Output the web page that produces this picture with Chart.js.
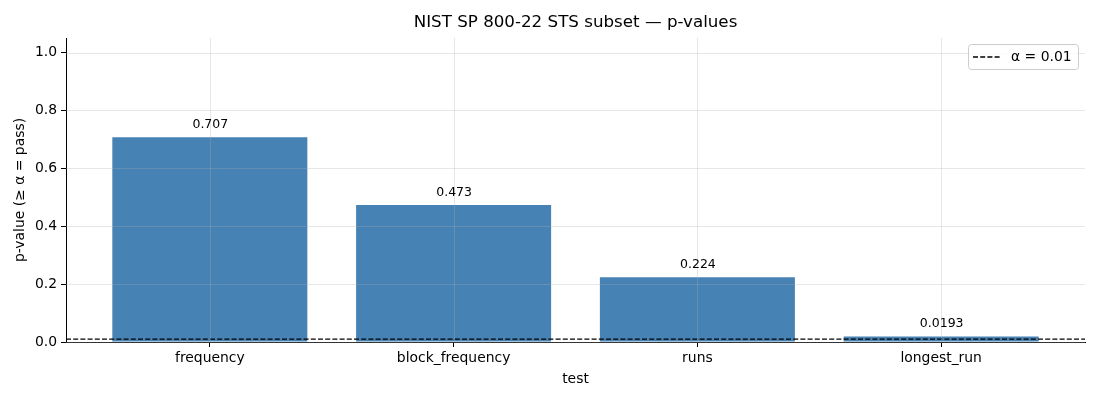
<!DOCTYPE html>
<html lang="en">
<head>
<meta charset="UTF-8">
<title>NIST STS p-values</title>
<style>
  body { margin: 0; background: #fff; }
  #wrap { width: 1100px; height: 400px; }
</style>
</head>
<body>
<div id="wrap"><canvas id="myChart"></canvas></div>

<script src="https://cdn.jsdelivr.net/npm/chart.js"></script>
<script>
    // data
    const tests = ['frequency', 'block_frequency', 'runs', 'longest_run'];
    const pValues = [0.707, 0.473, 0.224, 0.0193];
    const valueLabels = ['0.707', '0.473', '0.224', '0.0193'];
    const alpha = 0.01;
    const yTicks = [0, 0.2, 0.4, 0.6, 0.8, 1.0];

    // axis limits (matplotlib-like margins)
    const xMin = -0.59, xMax = 3.59;
    const yMin = 0, yMax = 1.05;

    const FONT = "'DejaVu Sans', sans-serif";
    Chart.defaults.font.family = FONT;
    Chart.defaults.color = '#000';

    // grid on top of the bars, like the reference
    const gridOnTop = {
        id: 'gridOnTop',
        afterDatasetsDraw(chart) {
            const { ctx, chartArea: a, scales: { x, y } } = chart;
            ctx.save();
            ctx.strokeStyle = 'rgba(176,176,176,0.3)';
            ctx.lineWidth = 1;
            x.ticks.forEach(t => {
                const px = Math.round(x.getPixelForValue(t.value)) + 0.5;
                ctx.beginPath(); ctx.moveTo(px, a.top); ctx.lineTo(px, a.bottom); ctx.stroke();
            });
            y.ticks.forEach(t => {
                const py = Math.round(y.getPixelForValue(t.value)) + 0.5;
                ctx.beginPath(); ctx.moveTo(a.left, py); ctx.lineTo(a.right, py); ctx.stroke();
            });
            ctx.restore();
        },
        afterDraw(chart) {
            const { ctx, scales: { x, y } } = chart;
            ctx.save();
            // value labels above bars
            ctx.font = '12.5px ' + FONT;
            ctx.fillStyle = '#000';
            ctx.textAlign = 'center';
            ctx.textBaseline = 'alphabetic';
            pValues.forEach((v, i) => {
                ctx.fillText(valueLabels[i], x.getPixelForValue(i) + 0.5, y.getPixelForValue(v) - 9);
            });

            // legend box
            const bx = 968, by = 44, bw = 110, bh = 25;
            ctx.fillStyle = 'rgba(255,255,255,0.8)';
            ctx.strokeStyle = '#cccccc';
            ctx.lineWidth = 1;
            ctx.beginPath();
            ctx.roundRect(bx + 0.5, by + 0.5, bw, bh, 3);
            ctx.fill(); ctx.stroke();
            ctx.strokeStyle = '#000';
            ctx.lineWidth = 1.3;
            ctx.setLineDash([5, 2.2]);
            ctx.beginPath();
            ctx.moveTo(bx + 5, by + 13); ctx.lineTo(bx + 33, by + 13); ctx.stroke();
            ctx.setLineDash([]);
            ctx.fillStyle = '#000';
            ctx.font = '13.9px ' + FONT;
            ctx.textAlign = 'left';
            ctx.textBaseline = 'middle';
            ctx.fillText('α = ' + alpha, bx + 43, by + 13);
            ctx.restore();
        }
    };

    const chart = new Chart(document.getElementById('myChart'), {
        type: 'bar',
        data: {
            datasets: [{
                type: 'line',
                label: 'α = ' + alpha,
                data: [{ x: xMin, y: alpha }, { x: xMax, y: alpha }],
                borderColor: '#000',
                borderWidth: 1.3,
                borderDash: [5, 2.2],
                pointRadius: 0,
                order: 0
            }, {
                label: 'p-value',
                data: pValues.map((v, i) => ({ x: i, y: v })),
                backgroundColor: '#4682b4',
                barPercentage: 0.8,
                categoryPercentage: 1.0,
                order: 1
            }]
        },
        options: {
            responsive: true,
            maintainAspectRatio: false,
            animation: false,
            layout: { padding: { left: 0, right: 15, top: 0, bottom: 0 } },
            plugins: {
                legend: { display: false },
                tooltip: { enabled: false },
                title: {
                    display: true,
                    fullSize: false,
                    text: 'NIST SP 800-22 STS subset — p-values',
                    font: { size: 16.7, weight: 'normal' },
                    color: '#000',
                    padding: { top: 13, bottom: 5 }
                }
            },
            scales: {
                x: {
                    type: 'linear',
                    min: xMin,
                    max: xMax,
                    offset: false,
                    afterBuildTicks(s) {
                        s.ticks = tests.map((t, i) => ({ value: i }));
                    },
                    afterFit(s) { s.height = 58; },
                    ticks: {
                        callback: v => tests[v],
                        font: { size: 13.9 },
                        color: '#000',
                        padding: 3,
                        maxRotation: 0
                    },
                    grid: { offset: false, drawOnChartArea: false, tickColor: '#000', tickLength: 5 },
                    border: { color: '#000', width: 1 },
                    title: {
                        display: true,
                        text: 'test',
                        font: { size: 13.9 },
                        color: '#000',
                        padding: { top: 0, bottom: 12 }
                    }
                },
                y: {
                    min: yMin,
                    max: yMax,
                    afterBuildTicks(s) {
                        s.ticks = yTicks.map(v => ({ value: v }));
                    },
                    afterFit(s) { s.width = 66; },
                    ticks: {
                        callback: v => v.toFixed(1),
                        font: { size: 13.9 },
                        color: '#000',
                        padding: 4
                    },
                    grid: { drawOnChartArea: false, tickColor: '#000', tickLength: 5 },
                    border: { color: '#000', width: 1 },
                    title: {
                        display: true,
                        text: 'p-value (≥ α = pass)',
                        font: { size: 13.9 },
                        color: '#000',
                        padding: { top: 12, bottom: 0 }
                    }
                }
            }
        },
        plugins: [gridOnTop]
    });
</script>
</body>
</html>
